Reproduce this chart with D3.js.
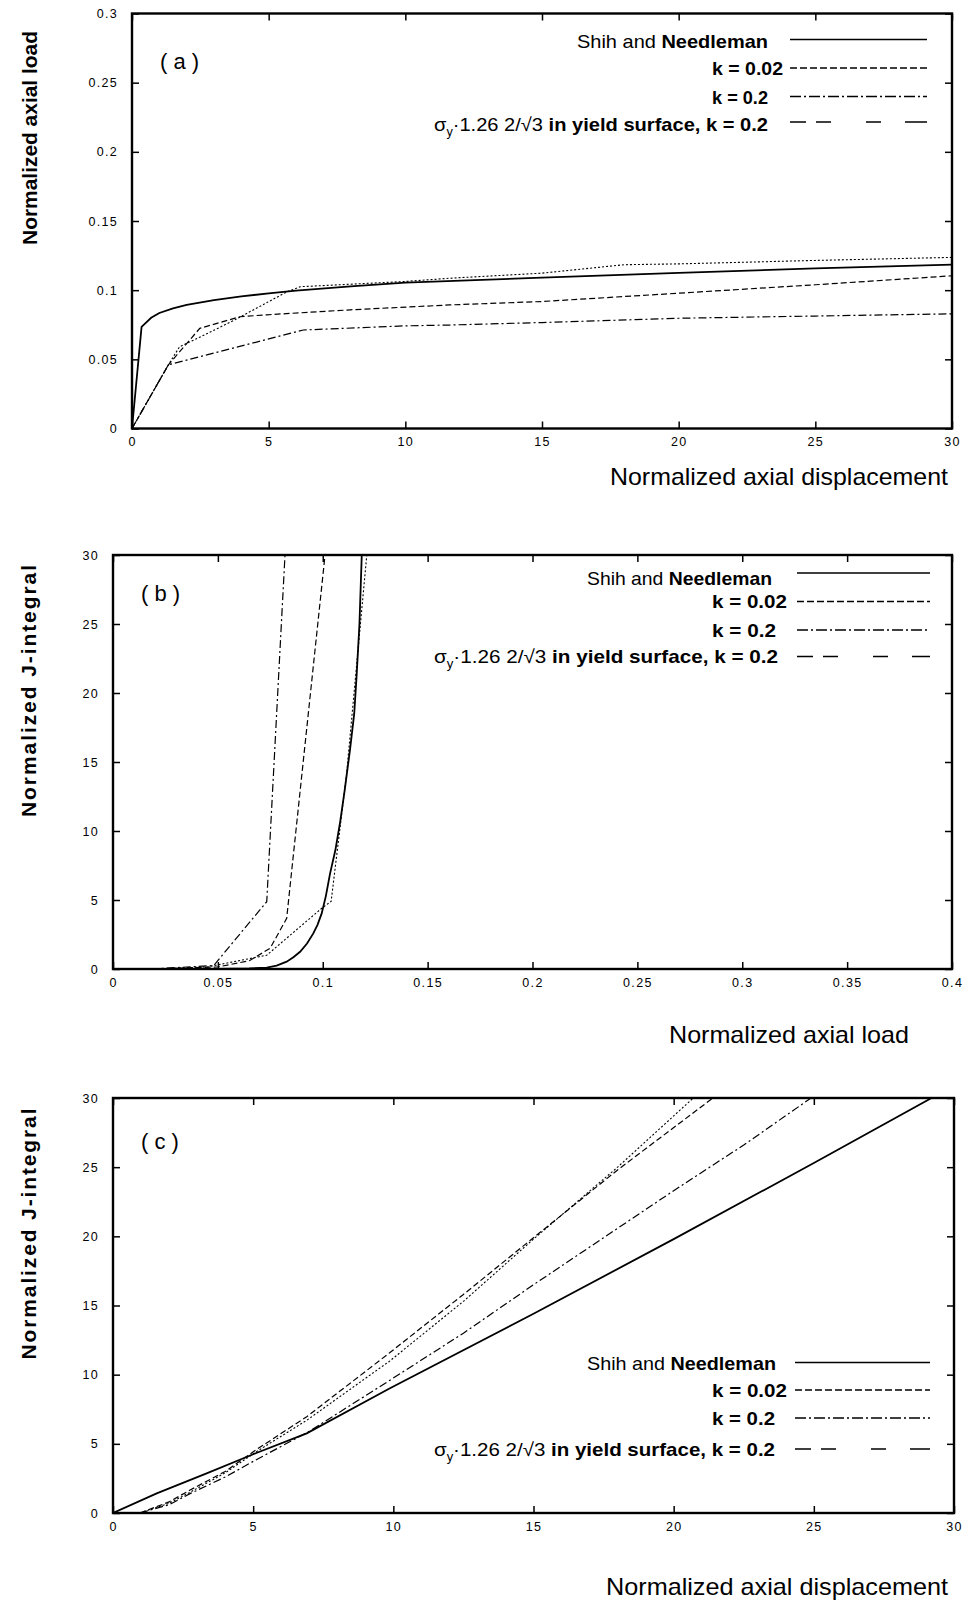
<!DOCTYPE html>
<html><head><meta charset="utf-8">
<script src="https://cdn.jsdelivr.net/npm/d3@7"></script>
<style>
body{margin:0;background:#fff}
svg{display:block;font-family:"Liberation Sans",Arial,Helvetica,sans-serif}
</style>
</head><body>
<svg id="chart" width="968" height="1602"></svg>
<script>
// ---------------- DATA ----------------
const seriesNames = ["Shih and Needleman", "k = 0.02", "k = 0.2", "σy·1.26 2/√3 in yield surface, k = 0.2"];

const dispTicks = [0, 5, 10, 15, 20, 25, 30];
const dispTickLabels = ["0", "5", "10", "15", "20", "25", "30"];
const loadTicksA = [0, 0.05, 0.1, 0.15, 0.2, 0.25, 0.3];
const loadTickLabelsA = ["0", "0.05", "0.1", "0.15", "0.2", "0.25", "0.3"];
const loadTicksB = [0, 0.05, 0.1, 0.15, 0.2, 0.25, 0.3, 0.35, 0.4];
const loadTickLabelsB = ["0", "0.05", "0.1", "0.15", "0.2", "0.25", "0.3", "0.35", "0.4"];
const jTicks = [0, 5, 10, 15, 20, 25, 30];
const jTickLabels = ["0", "5", "10", "15", "20", "25", "30"];

// Panel (a): normalized axial displacement -> normalized axial load
const aShihDisp = [0, 0.35, 0.7, 1.0, 1.5, 2, 3, 4, 5, 6, 8, 10, 15, 20, 25, 30];
const aShihLoad = [0, 0.0735, 0.0800, 0.0835, 0.0868, 0.0893, 0.0928, 0.0955, 0.0977, 0.0997, 0.1028, 0.1055, 0.1090, 0.1125, 0.1157, 0.1185];
const aK002Disp = [0, 1.33, 2.48, 3.95, 4.93, 8, 11.6, 15, 20, 25, 30];
const aK002Load = [0, 0.046, 0.0724, 0.0808, 0.0822, 0.0858, 0.0893, 0.0918, 0.0978, 0.1039, 0.1104];
const aK02Disp = [0, 1.33, 6.27, 10, 11.6, 15, 20, 25, 30];
const aK02Load = [0, 0.046, 0.0712, 0.0742, 0.0748, 0.0766, 0.0797, 0.0813, 0.0829];
const aSigDisp = [0, 1.33, 1.74, 2.48, 3.71, 5.66, 6.15, 10, 11.6, 15, 18, 20, 25, 30];
const aSigLoad = [0, 0.046, 0.0591, 0.066, 0.078, 0.0987, 0.1025, 0.1063, 0.1086, 0.1123, 0.1184, 0.1190, 0.1215, 0.1237];

// Panel (b): normalized axial load -> normalized J-integral
const bShihLoad = [0.018, 0.05, 0.065, 0.0733, 0.078, 0.0828, 0.086, 0.0892, 0.0925, 0.0955, 0.0975, 0.0995, 0.1015, 0.1035, 0.106, 0.1082, 0.1105, 0.113, 0.115, 0.1162, 0.1175, 0.1186];
const bShihJ    = [0, 0.01, 0.04, 0.1, 0.25, 0.53, 0.85, 1.25, 1.85, 2.58, 3.2, 4.03, 5.3, 6.93, 8.6, 10.56, 13.0, 15.9, 18.5, 21.4, 25.0, 30];
const bK002Load = [0.018, 0.05, 0.065, 0.0749, 0.0828, 0.1011];
const bK002J    = [0, 0.15, 0.6, 1.5, 3.67, 30];
const bK02Load  = [0.018, 0.048, 0.0733, 0.082];
const bK02J     = [0, 0.25, 4.88, 30];
const bSigLoad  = [0.018, 0.045, 0.0733, 0.0995, 0.104, 0.1114, 0.121];
const bSigJ     = [0, 0.15, 1.0, 4.4, 4.9, 14.2, 30];

// Panel (c): normalized axial displacement -> normalized J-integral
const cShihDisp = [0, 1.56, 3.34, 5.09, 6.91, 9.88, 15, 20, 25, 29.2];
const cShihJ    = [0, 1.42, 2.87, 4.32, 5.76, 9.02, 14.4, 19.8, 25.3, 30];
const cK002Disp = [0.96, 2, 2.75, 4, 5.09, 6.91, 9.88, 12.5, 15, 18, 21.4];
const cK002J    = [0, 0.8, 1.66, 3.0, 4.55, 6.96, 11.6, 15.8, 19.9, 24.8, 30];
const cK02Disp  = [0.96, 2, 2.75, 4, 5.09, 7, 9.88, 12.5, 15, 17.5, 20, 22.5, 24.9];
const cK02J     = [0, 0.6, 1.4, 2.6, 3.83, 5.9, 9.6, 13.0, 16.5, 19.9, 23.3, 26.6, 30];
const cSigDisp  = [0.96, 2, 2.75, 4, 5.09, 6.91, 9.88, 12.5, 15, 18, 20.7];
const cSigJ     = [0, 0.7, 1.5, 2.9, 4.4, 6.7, 11.0, 15.3, 19.8, 25.0, 30];

// ---------------- STYLE ----------------
const lineStyles = [
  {dash: null, width: 1.8},
  {dash: "6,3", width: 1.2},
  {dash: "8,3,2,3", width: 1.2},
  {dash: "2,2", width: 1.1}
];
const legendDash = [null, "7,3", "11,3,2,3", "16,10,15,35,15,24,22"];

const svg = d3.select("#chart");
const zip = (xs, ys) => xs.map((v, i) => [v, ys[i]]);

function drawPanel(p) {
  const g = svg.append("g");
  const x = d3.scaleLinear().domain(p.xDomain).range([p.left, p.right]);
  const y = d3.scaleLinear().domain(p.yDomain).range([p.bottom, p.top]);

  const clipId = "clip" + p.id;
  svg.append("clipPath").attr("id", clipId).append("rect")
    .attr("x", p.left).attr("y", p.top).attr("width", p.right - p.left).attr("height", p.bottom - p.top);

  const tickFont = sel => sel.selectAll("text")
    .attr("font-size", 12.5).attr("fill", "#000").style("letter-spacing", "1.3px");

  const bottom = g.append("g").attr("transform", `translate(0,${p.bottom})`)
    .call(d3.axisBottom(x).tickValues(p.xTicks).tickFormat((d, i) => p.xLabels[i])
      .tickSizeInner(-7).tickSizeOuter(0).tickPadding(9));
  const top = g.append("g").attr("transform", `translate(0,${p.top})`)
    .call(d3.axisTop(x).tickValues(p.xTicks).tickFormat("").tickSizeInner(-7).tickSizeOuter(0));
  const left = g.append("g").attr("transform", `translate(${p.left},0)`)
    .call(d3.axisLeft(y).tickValues(p.yTicks).tickFormat((d, i) => p.yLabels[i])
      .tickSizeInner(-7).tickSizeOuter(0).tickPadding(p.yPad));
  const right = g.append("g").attr("transform", `translate(${p.right},0)`)
    .call(d3.axisRight(y).tickValues(p.yTicks).tickFormat("").tickSizeInner(-7).tickSizeOuter(0));
  [bottom, top, left, right].forEach(a => {
    a.select(".domain").remove();
    a.selectAll("line").attr("stroke", "#000").attr("stroke-width", 1.5);
    tickFont(a);
  });

  // frame
  g.append("rect").attr("x", p.left).attr("y", p.top)
    .attr("width", p.right - p.left).attr("height", p.bottom - p.top)
    .attr("fill", "none").attr("stroke", "#000").attr("stroke-width", 2.4);

  // curves
  const line = d3.line().x(d => x(d[0])).y(d => y(d[1]));
  p.series.forEach((s, i) => {
    g.append("path").attr("d", line(s)).attr("fill", "none")
      .attr("clip-path", `url(#${clipId})`)
      .attr("stroke", "#000").attr("stroke-width", lineStyles[i].width)
      .attr("stroke-dasharray", lineStyles[i].dash);
  });

  // panel tag
  g.append("text").attr("x", p.left + 28).attr("y", p.tagY).attr("font-size", 22)
    .text(p.tag);

  // axis titles
  g.append("text").attr("transform", `translate(${p.yTitleX},${p.yTitleY}) rotate(-90)`)
    .attr("text-anchor", "middle").attr("font-size", 21).attr("font-weight", "bold")
    .attr("textLength", p.yTitleLen).attr("lengthAdjust", "spacing")
    .text(p.yTitle);
  g.append("text").attr("x", p.xTitleX).attr("y", p.xTitleY)
    .attr("text-anchor", "end").attr("font-size", 24)
    .attr("textLength", p.xTitleLen).attr("lengthAdjust", "spacingAndGlyphs")
    .text(p.xTitle);

  // legend
  const L = p.legend;
  seriesNames.forEach((name, i) => {
    const t = g.append("text").attr("x", L.tx0[i]).attr("y", L.rows[i] + 7)
      .attr("font-size", 19).attr("textLength", L.tx1[i] - L.tx0[i])
      .attr("lengthAdjust", "spacingAndGlyphs");
    if (i === 0) {
      t.append("tspan").text("Shih and ");
      t.append("tspan").attr("font-weight", "bold").text("Needleman");
    } else if (i === 3) {
      t.append("tspan").text("σ");
      t.append("tspan").attr("font-size", 12).attr("dy", 5).text("y");
      t.append("tspan").attr("dy", -5).text("·1.26 2/√3 ");
      t.append("tspan").attr("font-weight", "bold").text("in yield surface, k = 0.2");
    } else {
      t.attr("font-weight", "bold").text(name);
    }
    g.append("line").attr("x1", L.lx[0]).attr("x2", L.lx[1])
      .attr("y1", L.lines[i]).attr("y2", L.lines[i])
      .attr("stroke", "#000").attr("stroke-width", 1.6)
      .attr("stroke-dasharray", legendDash[i]);
  });
}

drawPanel({
  id: "a", left: 132, right: 952, top: 13.5, bottom: 428.5,
  xDomain: [0, 30], yDomain: [0, 0.3],
  xTicks: dispTicks, xLabels: dispTickLabels, yTicks: loadTicksA, yLabels: loadTickLabelsA, yPad: 14,
  series: [zip(aShihDisp, aShihLoad), zip(aK002Disp, aK002Load), zip(aK02Disp, aK02Load), zip(aSigDisp, aSigLoad)],
  tag: "( a )", tagY: 69,
  yTitle: "Normalized axial load", yTitleX: 37, yTitleY: 138, yTitleLen: 214,
  xTitle: "Normalized axial displacement", xTitleX: 948, xTitleY: 485, xTitleLen: 338,
  legend: {rows: [41, 68, 97, 124], lines: [39.5, 68, 96.5, 122],
    tx0: [577, 712, 712, 434], tx1: [768, 783, 768, 768], lx: [790, 927]}
});

drawPanel({
  id: "b", left: 113, right: 952, top: 555, bottom: 969,
  xDomain: [0, 0.4], yDomain: [0, 30],
  xTicks: loadTicksB, xLabels: loadTickLabelsB, yTicks: jTicks, yLabels: jTickLabels, yPad: 14,
  series: [zip(bShihLoad, bShihJ), zip(bK002Load, bK002J), zip(bK02Load, bK02J), zip(bSigLoad, bSigJ)],
  tag: "( b )", tagY: 601,
  yTitle: "Normalized J-integral", yTitleX: 36, yTitleY: 691, yTitleLen: 252,
  xTitle: "Normalized axial load", xTitleX: 909, xTitleY: 1043, xTitleLen: 240,
  legend: {rows: [578, 601, 630, 656], lines: [573, 601.5, 630, 656.5],
    tx0: [587, 712, 712, 434], tx1: [772, 787, 776, 778], lx: [797, 930]}
});

drawPanel({
  id: "c", left: 113, right: 954, top: 1098, bottom: 1513,
  xDomain: [0, 30], yDomain: [0, 30],
  xTicks: dispTicks, xLabels: dispTickLabels, yTicks: jTicks, yLabels: jTickLabels, yPad: 14,
  series: [zip(cShihDisp, cShihJ), zip(cK002Disp, cK002J), zip(cK02Disp, cK02J), zip(cSigDisp, cSigJ)],
  tag: "( c )", tagY: 1149,
  yTitle: "Normalized J-integral", yTitleX: 36, yTitleY: 1234, yTitleLen: 251,
  xTitle: "Normalized axial displacement", xTitleX: 948, xTitleY: 1595, xTitleLen: 342,
  legend: {rows: [1363, 1390, 1418, 1449], lines: [1362.5, 1390, 1418, 1449],
    tx0: [587, 712, 712, 434], tx1: [776, 787, 775, 775], lx: [795, 930]}
});
</script>
</body></html>
